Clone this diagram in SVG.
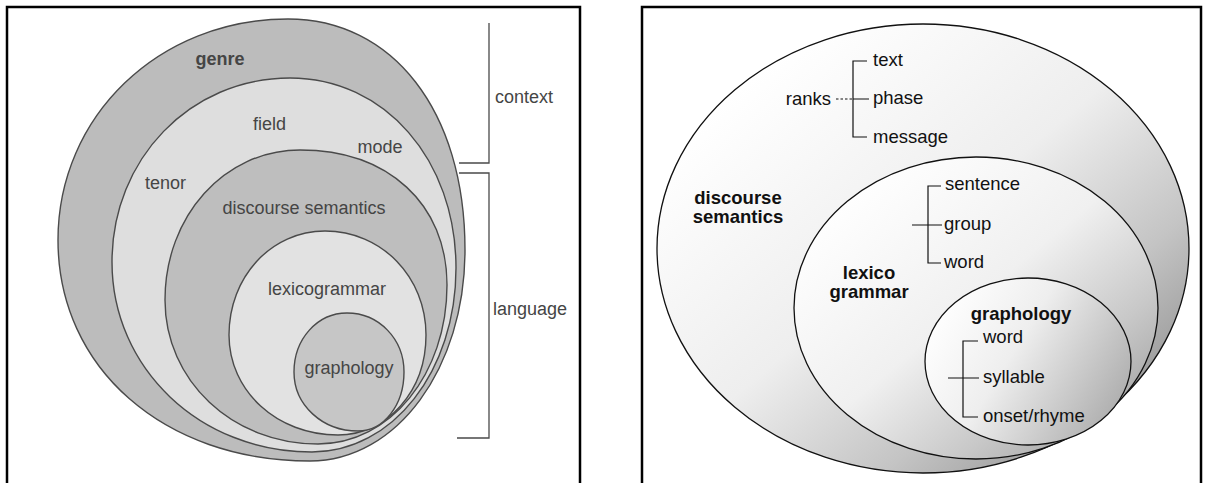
<svg xmlns="http://www.w3.org/2000/svg" width="1206" height="483" viewBox="0 0 1206 483">
<style>
.frame{fill:none;stroke:#000;stroke-width:2.5}
.lshape{stroke:#4a4a4a;stroke-width:1.4}
.ltxt{font-family:"Liberation Sans",Arial,sans-serif;fill:#454545;font-size:18px}
.rshape{stroke:#111;stroke-width:1.3}
.rtxt{font-family:"Liberation Sans",Arial,sans-serif;fill:#111;font-size:18.5px}
.rbold{font-family:"Liberation Sans",Arial,sans-serif;fill:#111;font-size:18.5px;font-weight:bold}
.brk{fill:none;stroke:#4a4a4a;stroke-width:1.3}
.rk{fill:none;stroke:#111;stroke-width:1.2}
</style>
<defs>
<linearGradient id="gOuter" x1="0.2" y1="0.1" x2="0.95" y2="0.85">
<stop offset="0" stop-color="#ffffff"/>
<stop offset="0.45" stop-color="#eeeeee"/>
<stop offset="0.75" stop-color="#c4c4c4"/>
<stop offset="1" stop-color="#929292"/>
</linearGradient>
<linearGradient id="gLex" x1="0.15" y1="0.1" x2="0.95" y2="0.9">
<stop offset="0" stop-color="#ffffff"/>
<stop offset="0.45" stop-color="#f0f0f0"/>
<stop offset="0.75" stop-color="#c8c8c8"/>
<stop offset="1" stop-color="#a0a0a0"/>
</linearGradient>
<linearGradient id="gGra" x1="0" y1="0.3" x2="1" y2="0.8">
<stop offset="0" stop-color="#ffffff"/>
<stop offset="0.4" stop-color="#eeeeee"/>
<stop offset="1" stop-color="#a8a8a8"/>
</linearGradient>
</defs>

<!-- left panel -->
<rect x="7" y="7" width="573" height="490" fill="#f3f3f3" class="frame"/>
<g id="genre">
<path class="lshape" fill="#bcbcbc" d="M288,19 C392,19 465,110 465,250 C465,368.2 396.8,461 310,461 C163.8,461 58,368.2 58,240 C58,116.2 159,19 288,19 Z"/>
<text class="ltxt" x="220" y="65" text-anchor="middle" font-weight="bold" font-size="20" fill="#555">genre</text>
</g>
<g id="field-tenor-mode">
<path class="lshape" fill="#dedede" d="M290,78 C384.6,78 456,159.7 456,268 C456,371 392.6,452 312,452 C200,452 112,368.4 112,262 C112,159 190.3,78 290,78 Z"/>
<text class="ltxt" x="269.5" y="130" text-anchor="middle">field</text>
<text class="ltxt" x="380" y="153" text-anchor="middle">mode</text>
<text class="ltxt" x="165.5" y="189" text-anchor="middle">tenor</text>
</g>
<g id="discourse-semantics-left">
<path class="lshape" fill="#bebebe" d="M300,150 C388.2,150 447,204 447,285 C447,374 390.2,444 318,444 C232.3,444 165,380.6 165,300 C165,216 224.4,150 300,150 Z"/>
<text class="ltxt" x="304" y="214" text-anchor="middle" font-size="19">discourse semantics</text>
</g>
<g id="lexicogrammar-left">
<path class="lshape" fill="#e2e2e2" d="M325,231 C381.6,231 426,276.8 426,335 C426,391 387.3,435 338,435 C277,435 229,391 229,335 C229,276.8 271.2,231 325,231 Z"/>
<text class="ltxt" x="327" y="295" text-anchor="middle" font-size="19">lexicogrammar</text>
</g>
<g id="graphology-left">
<path class="lshape" fill="#c6c6c6" d="M347,313 C378.9,313 404,339 404,372 C404,405 383.8,431 358,431 C322.2,431 294,405 294,372 C294,339 317.3,313 347,313 Z"/>
<text class="ltxt" x="349" y="374" text-anchor="middle" font-size="17">graphology</text>
</g>
<g id="context">
<path class="brk" d="M489,23 V163 H459"/>
<text class="ltxt" x="495" y="103">context</text>
</g>
<g id="language">
<path class="brk" d="M459,173 H489 V438 H457"/>
<text class="ltxt" x="493" y="315">language</text>
</g>

<!-- right panel -->
<rect x="642" y="7" width="559" height="490" fill="#ffffff" class="frame"/>
<g id="discourse-semantics">
<ellipse class="rshape" cx="923" cy="248.5" rx="266" ry="224.5" fill="url(#gOuter)"/>
<text class="rbold" x="738" y="204" text-anchor="middle">discourse</text>
<text class="rbold" x="738" y="223" text-anchor="middle">semantics</text>
<text class="rtxt" x="831" y="105" text-anchor="end">ranks</text>
<text class="rtxt" x="873" y="66">text</text>
<text class="rtxt" x="873" y="104">phase</text>
<text class="rtxt" x="873" y="143">message</text>
</g>
<g id="lexicogrammar">
<ellipse class="rshape" cx="976" cy="308" rx="182" ry="151" fill="url(#gLex)"/>
<text class="rbold" x="869" y="279" text-anchor="middle" font-size="19">lexico</text>
<text class="rbold" x="869" y="298" text-anchor="middle" font-size="19">grammar</text>
<text class="rtxt" x="945" y="190">sentence</text>
<text class="rtxt" x="944" y="230">group</text>
<text class="rtxt" x="944" y="268">word</text>
</g>
<g id="graphology">
<ellipse class="rshape" cx="1028" cy="361.5" rx="103" ry="83.5" fill="url(#gGra)"/>
<text class="rbold" x="1021" y="320" text-anchor="middle">graphology</text>
<text class="rtxt" x="983" y="343">word</text>
<text class="rtxt" x="983" y="383">syllable</text>
<text class="rtxt" x="983" y="422">onset/rhyme</text>
</g>
<g id="connectors">
<path class="rk" d="M836,99 H853" stroke-dasharray="2.5,2"/>
<path class="rk" d="M867,61 H853 V137 H867 M853,99 H869"/>
<path class="rk" d="M941,186 H928 V263 H941 M912,225 H942"/>
<path class="rk" d="M978,341 H963 V417 H978 M948,378 H979"/>
</g>
</svg>
